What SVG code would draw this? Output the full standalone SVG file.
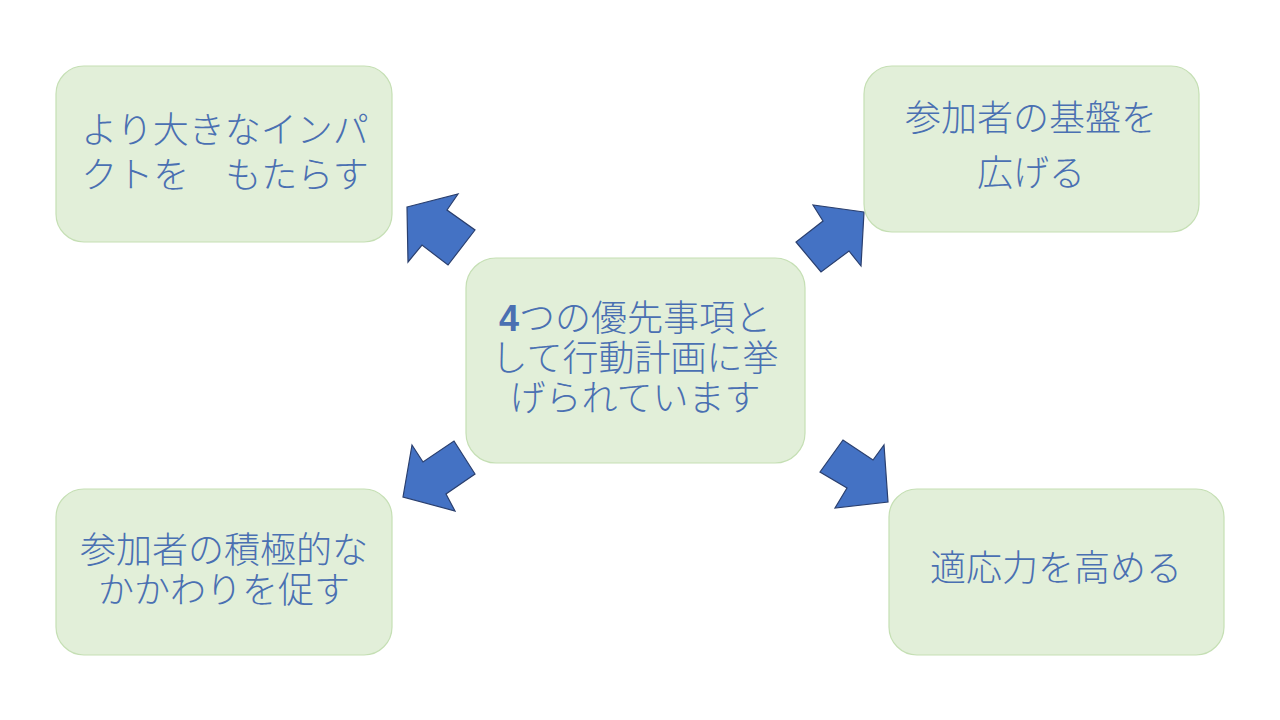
<svg xmlns="http://www.w3.org/2000/svg" width="1280" height="720" viewBox="0 0 1280 720">
<style>
.box{fill:#e2efd9;stroke:#c5dfb4;stroke-width:1.2}
.t{font-family:"Noto Sans CJK JP","Noto Sans",sans-serif;font-size:36px;fill:#4a70b2;text-anchor:middle;font-weight:300}
.arr{fill:#4472c4;stroke:#2a3f6e;stroke-width:1.2;stroke-linejoin:miter}
</style>
<rect width="1280" height="720" fill="#ffffff"/>
<g id="connectors">
<polygon class="arr" points="407,207 458,194 447,210 475,230 448,265 422,245 408,262"/>
<polygon class="arr" points="864,212 813,205 823,221 796,242 821,272 849,251 861,266"/>
<polygon class="arr" points="403,497 412,445 423,462 454,441 475,474 446,494 455,511"/>
<polygon class="arr" points="888,502 884,445 873,460 843,440 820,472 847,488 835,508"/>
</g>
<g id="node-impact">
<rect class="box" x="56" y="66" width="336" height="176" rx="28"/>
<text class="t" x="225" y="143">より大きなインパ</text>
<text class="t" x="225" y="188">クトを　もたらす</text>
</g>
<g id="node-base">
<rect class="box" x="864" y="66" width="335" height="166" rx="28"/>
<text class="t" x="1031" y="131">参加者の基盤を</text>
<text class="t" x="1031" y="186">広げる</text>
</g>
<g id="node-center">
<rect class="box" x="466" y="258" width="339" height="205" rx="30"/>
<text class="t" x="635" y="331"><tspan font-weight="bold" font-family="Liberation Sans, sans-serif">4</tspan>つの優先事項と</text>
<text class="t" x="635" y="371">して行動計画に挙</text>
<text class="t" x="635" y="411">げられています</text>
</g>
<g id="node-engage">
<rect class="box" x="56" y="489" width="336" height="166" rx="28"/>
<text class="t" x="224" y="563">参加者の積極的な</text>
<text class="t" x="224" y="603">かかわりを促す</text>
</g>
<g id="node-resilience">
<rect class="box" x="889" y="489" width="335" height="166" rx="28"/>
<text class="t" x="1056" y="581">適応力を高める</text>
</g>
</svg>
